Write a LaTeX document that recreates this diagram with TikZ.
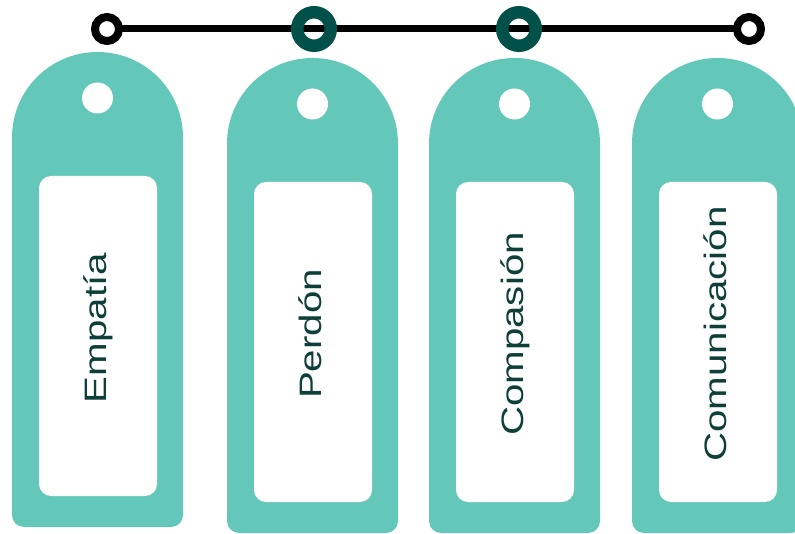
\documentclass[tikz,border=0pt]{standalone}
\usepackage{fontspec}
\setmainfont{Liberation Sans}
\definecolor{tagc}{HTML}{63C7B9}
\definecolor{ringc}{HTML}{02504A}
\definecolor{txtc}{HTML}{0E3F39}
\tikzset{
  tagbody/.style={fill=tagc},
  hole/.style={fill=white},
  innerbox/.style={fill=white, rounded corners=12pt},
  tagtext/.style={rotate=90, anchor=base, text=txtc, inner sep=0pt,
    font=\fontsize{31}{36}\selectfont},
  wire/.style={line width=7pt, black},
  endring/.style={circle, draw=black, line width=8pt, fill=white, minimum size=24pt, inner sep=0pt},
  midring/.style={circle, draw=ringc, line width=12.5pt, minimum size=33.5pt, inner sep=0pt}
}
\begin{document}
\begin{tikzpicture}[x=1pt,y=1pt]
\useasboundingbox (0,0) rectangle (795,533);
% tags: left x / top (canvas) / bottom (canvas) / name / text
\foreach \L/\T/\B/\nm/\txt in {12/481/6/t1/Empatía, 227/475/0/t2/Perdón, 429/475/0/t3/Compasión, 632/475/0/t4/Comunicación}{
  \fill[tagbody] (\L,\T-85.5) arc[start angle=180, end angle=0, radius=85.5]
     [rounded corners=12pt] -- (\L+171,\B) -- (\L,\B) [sharp corners] -- cycle;
  \fill[hole] (\L+85.5,\T-46) circle[radius=15.5];
  \fill[innerbox] (\L+27,\T-124) rectangle (\L+145,\B+31);
  \node[tagtext] (\nm) at (\L+94,\B+199) {\scalebox{1.3}[1]{\txt}};
}
\coordinate (e1) at (107,504);
\coordinate (e2) at (749,504);
\draw[wire] (e1) -- (e2);
\node[endring] (r1) at (e1) {};
\node[endring] (r4) at (e2) {};
\node[midring] (r2) at (314,504) {};
\node[midring] (r3) at (519,504) {};
\end{tikzpicture}
\end{document}
